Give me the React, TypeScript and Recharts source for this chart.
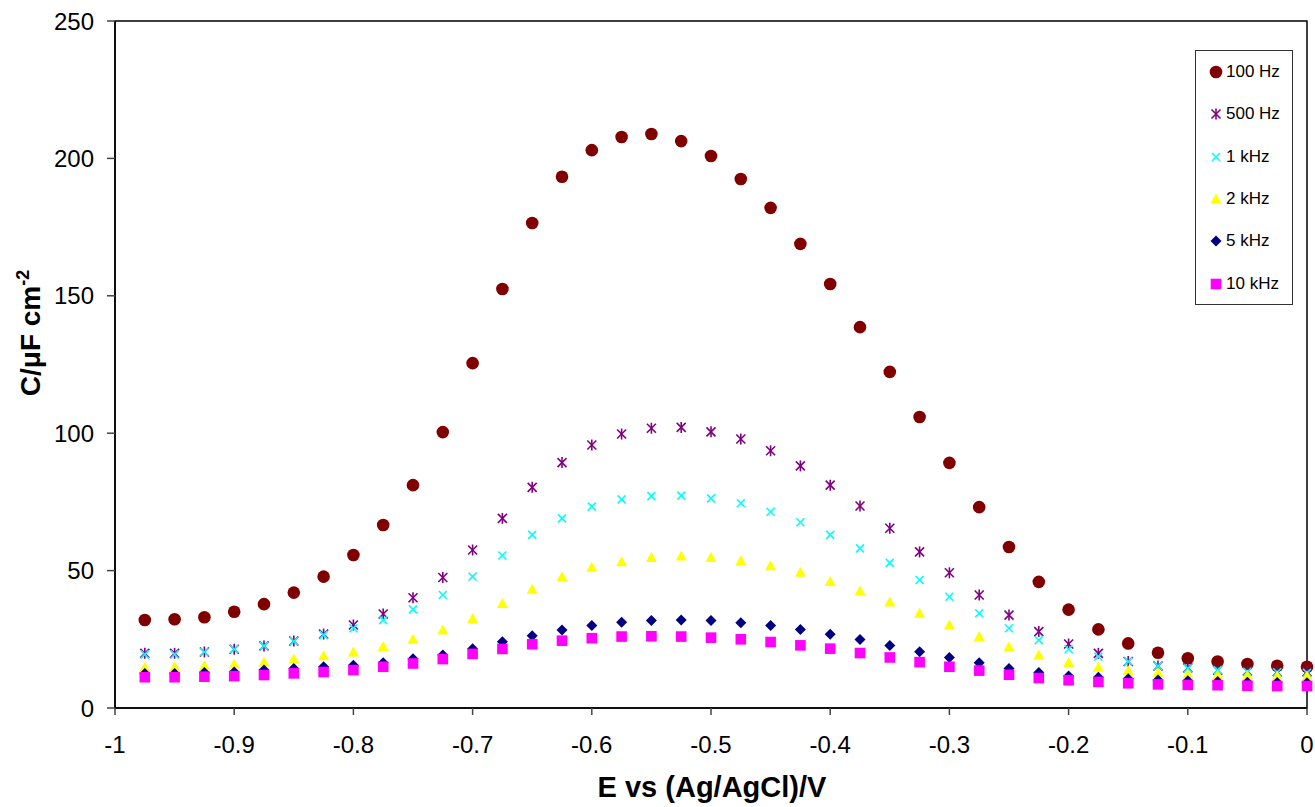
import { Legend, ReferenceArea, Scatter, ScatterChart, XAxis, YAxis } from 'recharts'

const FONT = '"Liberation Sans", Arial, sans-serif'

// potential, V vs Ag/AgCl
const E_VALUES = [
  -0.975, -0.95, -0.925, -0.9, -0.875, -0.85, -0.825, -0.8, -0.775, -0.75,
  -0.725, -0.7, -0.675, -0.65, -0.625, -0.6, -0.575, -0.55, -0.525, -0.5,
  -0.475, -0.45, -0.425, -0.4, -0.375, -0.35, -0.325, -0.3, -0.275, -0.25,
  -0.225, -0.2, -0.175, -0.15, -0.125, -0.1, -0.075, -0.05, -0.025, 0,
]

// capacitance, µF cm-2
const C_100HZ = [
  32, 32.3, 33, 35, 37.8, 42, 47.8, 55.7, 66.6, 81.1,
  100.4, 125.5, 152.5, 176.5, 193.3, 203, 207.8, 208.9, 206.3, 200.9,
  192.5, 182, 168.9, 154.3, 138.6, 122.3, 105.9, 89.2, 73.1, 58.6,
  45.9, 35.8, 28.6, 23.5, 20.1, 18.1, 16.9, 16, 15.4, 15,
]
const C_500HZ = [
  19.9, 19.9, 20.4, 21.4, 22.6, 24.4, 26.9, 30.2, 34.2, 40.1,
  47.5, 57.5, 69, 80.3, 89.3, 95.7, 99.7, 101.8, 102.1, 100.5,
  97.9, 93.6, 88.1, 81.1, 73.5, 65.4, 56.8, 49.2, 41.1, 33.8,
  27.8, 23.3, 19.9, 16.9, 15.3, 14.6, 13.8, 13.4, 13.2, 13.2,
]
const C_1KHZ = [
  19.5, 19.5, 20.4, 21.4, 22.6, 24.3, 26.6, 29, 32, 35.9,
  41.1, 47.8, 55.5, 63, 69, 73.3, 75.9, 77.1, 77.3, 76.3,
  74.5, 71.4, 67.6, 63, 58.1, 52.8, 46.6, 40.5, 34.5, 29,
  24.7, 21.4, 18.7, 16.9, 15.3, 14.4, 13.8, 13.2, 13, 12.8,
]
const C_2KHZ = [
  14.8, 15, 15.4, 16, 16.7, 17.8, 19, 20.4, 22.4, 25,
  28.4, 32.6, 38, 43.2, 47.8, 51.2, 53.2, 54.8, 55.3, 54.8,
  53.6, 51.8, 49.4, 46, 42.6, 38.6, 34.5, 30.2, 26, 22.3,
  19.3, 16.6, 14.8, 13.6, 12.9, 12.4, 12, 11.9, 11.6, 11.6,
]
const C_5KHZ = [
  12.6, 12.6, 12.9, 13.1, 13.8, 14.4, 15, 15.6, 16.5, 17.9,
  19.3, 21.6, 24.1, 26.3, 28.4, 30, 31.2, 31.8, 32, 31.8,
  31, 30, 28.6, 26.8, 24.9, 22.7, 20.5, 18.4, 16.5, 14.4,
  12.9, 11.6, 11.2, 10.6, 10.2, 9.9, 9.6, 9.4, 9.3, 9.2,
]
const C_10KHZ = [
  11.2, 11.2, 11.4, 11.6, 12, 12.6, 13.1, 13.8, 15, 16.2,
  17.8, 19.7, 21.5, 23.2, 24.5, 25.4, 26, 26.1, 26, 25.6,
  25, 24, 22.8, 21.6, 20, 18.4, 16.7, 15, 13.6, 12.1,
  10.9, 10.1, 9.5, 9, 8.6, 8.4, 8.3, 8.1, 8, 8,
]

const X_TICKS = [-1, -0.9, -0.8, -0.7, -0.6, -0.5, -0.4, -0.3, -0.2, -0.1, 0]
const Y_TICKS = [0, 50, 100, 150, 200, 250]

type Kind = 'circle' | 'star' | 'x' | 'triangle' | 'diamond' | 'square'

const SERIES: { name: string; values: number[]; kind: Kind; color: string }[] = [
  { name: '100 Hz', values: C_100HZ, kind: 'circle', color: '#800000' },
  { name: '500 Hz', values: C_500HZ, kind: 'star', color: '#800080' },
  { name: '1 kHz', values: C_1KHZ, kind: 'x', color: '#00FFFF' },
  { name: '2 kHz', values: C_2KHZ, kind: 'triangle', color: '#FFFF00' },
  { name: '5 kHz', values: C_5KHZ, kind: 'diamond', color: '#000080' },
  { name: '10 kHz', values: C_10KHZ, kind: 'square', color: '#FF00FF' },
]

function Marker({ kind, color, cx, cy }: { kind: Kind; color: string; cx: number; cy: number }) {
  if (cx == null || cy == null) return null
  switch (kind) {
    case 'circle':
      return <circle cx={cx} cy={cy} r={6.3} fill={color} />
    case 'star':
      return (
        <g stroke={color} strokeWidth={1.6}>
          <line x1={cx - 4.5} y1={cy - 4.5} x2={cx + 4.5} y2={cy + 4.5} />
          <line x1={cx - 4.5} y1={cy + 4.5} x2={cx + 4.5} y2={cy - 4.5} />
          <line x1={cx} y1={cy - 5.5} x2={cx} y2={cy + 5.5} />
        </g>
      )
    case 'x':
      return (
        <g stroke={color} strokeWidth={1.6}>
          <line x1={cx - 4} y1={cy - 4} x2={cx + 4} y2={cy + 4} />
          <line x1={cx - 4} y1={cy + 4} x2={cx + 4} y2={cy - 4} />
        </g>
      )
    case 'triangle':
      return (
        <polygon
          points={`${cx},${cy - 5.5} ${cx + 5.5},${cy + 4.5} ${cx - 5.5},${cy + 4.5}`}
          fill={color}
        />
      )
    case 'diamond':
      return (
        <polygon
          points={`${cx},${cy - 5.5} ${cx + 5.5},${cy} ${cx},${cy + 5.5} ${cx - 5.5},${cy}`}
          fill={color}
        />
      )
    case 'square':
      return <rect x={cx - 5.3} y={cy - 5.3} width={10.6} height={10.6} fill={color} />
  }
}

function LegendBox() {
  return (
    <div
      style={{
        border: '1px solid #333',
        background: '#fff',
        width: 98,
        height: 255,
        boxSizing: 'border-box',
        fontFamily: FONT,
        fontSize: 17,
        color: '#000',
      }}
    >
      {SERIES.map((s) => (
        <div key={s.name} style={{ height: 42.3, display: 'flex', alignItems: 'center' }}>
          <svg width={14} height={14} style={{ marginLeft: 13, marginRight: 3 }}>
            <Marker kind={s.kind} color={s.color} cx={7} cy={7} />
          </svg>
          <span>{s.name}</span>
        </div>
      ))}
    </div>
  )
}

const tickStyle = { fill: '#000', fontSize: 24, fontFamily: FONT }

export default function App() {
  return (
    <div style={{ position: 'absolute', left: 0, top: 0, width: 1315, height: 807, background: '#fff' }}>
      <ScatterChart width={1315} height={807} margin={{ top: 21, right: 8, bottom: 0, left: 0 }}>
        <XAxis
          type="number"
          dataKey="e"
          domain={[-1, 0]}
          ticks={X_TICKS}
          interval={0}
          height={99}
          tick={tickStyle}
          tickSize={7}
          tickMargin={21}
          axisLine={{ stroke: '#000', strokeWidth: 1.5 }}
          tickLine={{ stroke: '#444', strokeWidth: 1.5 }}
          label={{
            content: () => (
              <text x={712} y={797} textAnchor="middle" fontFamily={FONT} fontSize={29} fontWeight="bold" fill="#000">
                E vs (Ag/AgCl)/V
              </text>
            ),
          }}
        />
        <YAxis
          type="number"
          dataKey="c"
          domain={[0, 250]}
          ticks={Y_TICKS}
          interval={0}
          width={115}
          tick={tickStyle}
          tickSize={8}
          tickMargin={13}
          axisLine={{ stroke: '#000', strokeWidth: 1.5 }}
          tickLine={{ stroke: '#444', strokeWidth: 1.5 }}
          label={{
            content: () => (
              <text
                x={40}
                y={333}
                transform="rotate(-90, 40, 333)"
                textAnchor="middle"
                fontFamily={FONT}
                fontSize={28}
                fontWeight="bold"
                fill="#000"
              >
                C/μF cm
                <tspan dy={-11} fontSize={18}>
                  -2
                </tspan>
              </text>
            ),
          }}
        />
        <ReferenceArea
          x1={-1}
          x2={0}
          y1={0}
          y2={250}
          fill="none"
          stroke="#000"
          strokeWidth={1.5}
          ifOverflow="visible"
        />
        <Legend
          layout="vertical"
          align="center"
          verticalAlign="middle"
          wrapperStyle={{ left: 1195, top: 50, width: 98, height: 255 }}
          content={() => <LegendBox />}
        />
        {SERIES.map((s) => (
          <Scatter
            key={s.name}
            name={s.name}
            data={E_VALUES.map((e, i) => ({ e, c: s.values[i] }))}
            isAnimationActive={false}
            shape={(props: any) => <Marker kind={s.kind} color={s.color} cx={props.cx} cy={props.cy} />}
          />
        ))}
      </ScatterChart>
    </div>
  )
}
